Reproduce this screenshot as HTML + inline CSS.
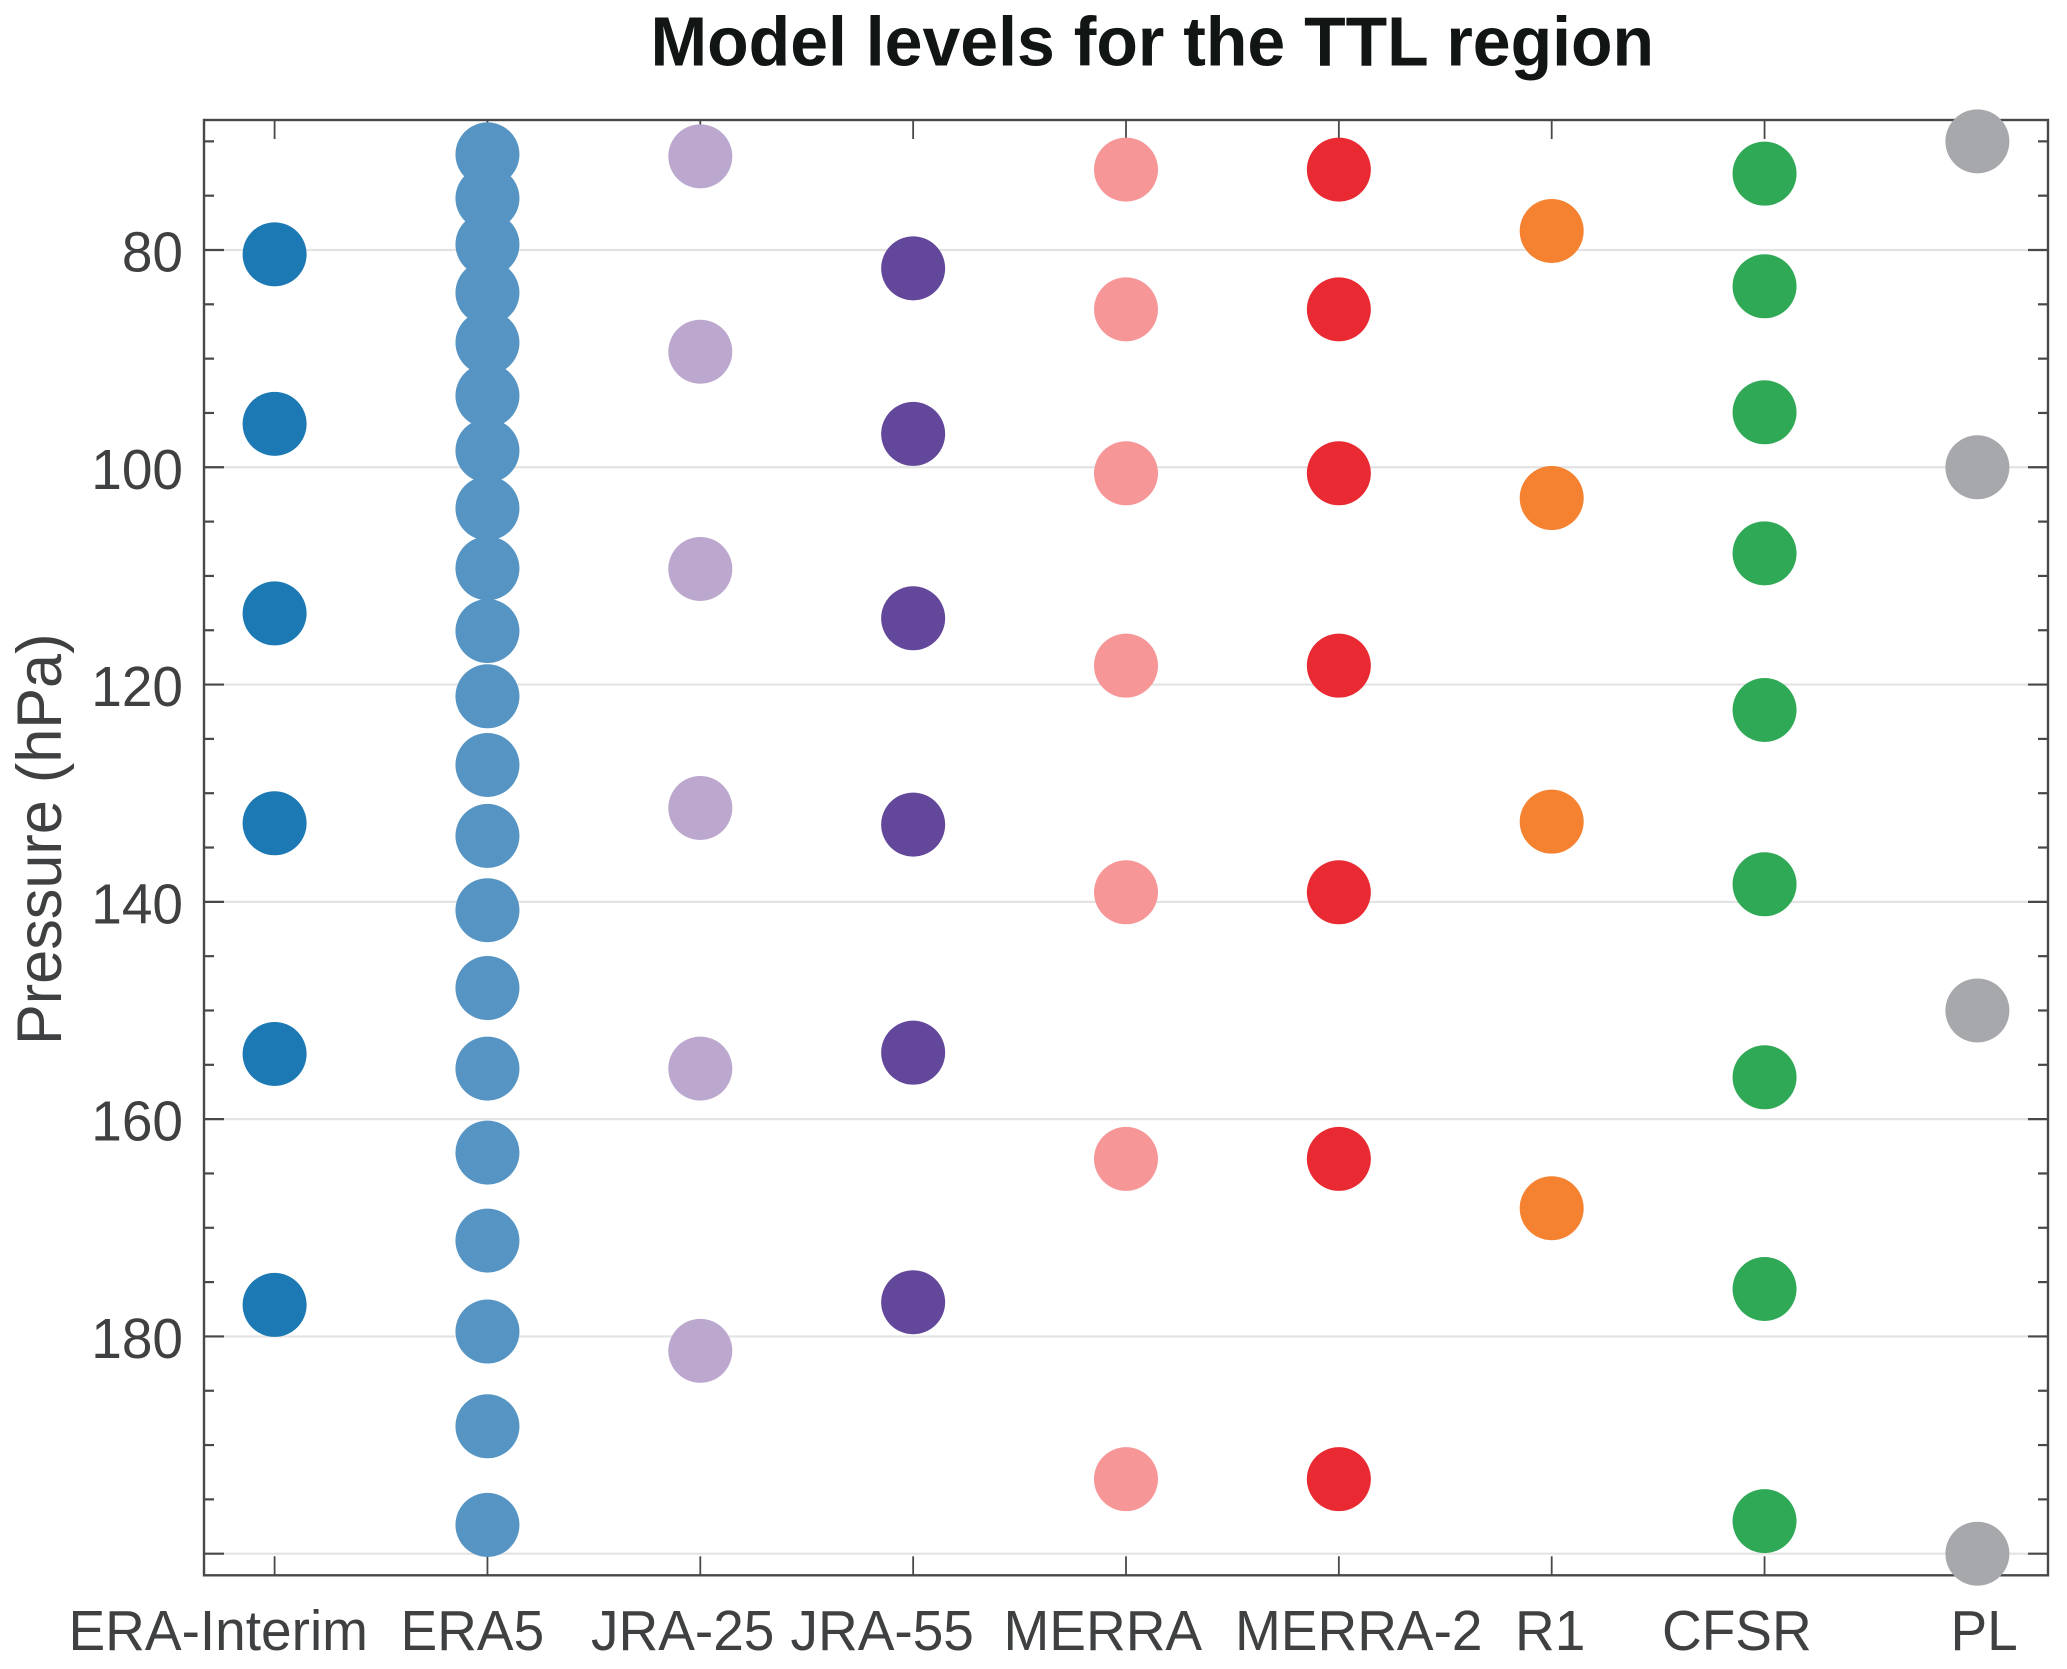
<!DOCTYPE html>
<html lang="en">
<head>
<meta charset="utf-8">
<title>Model levels for the TTL region</title>
<style>
  html, body { margin: 0; padding: 0; background: #ffffff; }
  body { width: 2067px; height: 1669px; overflow: hidden; }
  svg { display: block; font-family: "Liberation Sans", Arial, sans-serif; }
  .x-label { font-size: 55px; fill: #3f4041; }
  .y-label { font-size: 55px; fill: #3f4041; text-anchor: end; }
</style>
</head>
<body>
<svg id="chart" xmlns="http://www.w3.org/2000/svg" width="2067" height="1669" viewBox="0 0 2067 1669">
  <rect x="0" y="0" width="2067" height="1669" fill="#ffffff"/>
  <g id="grid"></g>
  <g id="ticks"></g>
  <rect x="204" y="120" width="1844" height="1455.3" fill="none" stroke="#47484a" stroke-width="2.4"/>
  <g id="y-labels"></g>
  <g transform="translate(0 1650) scale(1 1.03)">
    <text class="x-label" x="68.5" y="0">ERA-Interim</text>
    <text class="x-label" x="400.5" y="0">ERA5</text>
    <text class="x-label" x="591" y="0">JRA-25</text>
    <text class="x-label" x="790.5" y="0">JRA-55</text>
    <text class="x-label" x="1003.5" y="0">MERRA</text>
    <text class="x-label" x="1235" y="0">MERRA-2</text>
    <text class="x-label" x="1515" y="0">R1</text>
    <text class="x-label" x="1662" y="0">CFSR</text>
    <text class="x-label" x="1950.5" y="0">PL</text>
  </g>
  <text transform="translate(61 1045) rotate(-90) scale(1 1.03)" font-size="61.2" fill="#3f4041">Pressure (hPa)</text>
  <text transform="translate(650.5 65.5) scale(1 1.03)" font-size="68" font-weight="700" fill="#111615">Model levels for the TTL region</text>
  <g id="marks"></g>
</svg>
<script>
const categories = ["ERA-Interim", "ERA5", "JRA-25", "JRA-55", "MERRA", "MERRA-2", "R1", "CFSR", "PL"];
const eraInterim = [80.4, 96.0, 113.45, 132.77, 154.0, 177.1];
const era5 = [71.2, 75.24, 79.48, 83.93, 88.53, 93.4, 98.47, 103.78, 109.3, 115.07, 121.08, 127.4, 133.93, 140.77, 147.93, 155.35, 163.08, 171.18, 179.55, 188.27, 197.35];
const jra25 = [71.38, 89.36, 109.36, 131.36, 155.35, 181.33];
const jra55 = [81.69, 96.93, 113.9, 132.89, 153.88, 176.85];
const merra = [72.6, 85.46, 100.55, 118.26, 139.12, 163.66, 193.14];
const merra2 = [72.6, 85.46, 100.55, 118.26, 139.12, 163.66, 193.14];
const r1 = [78.25, 102.83, 132.62, 168.2];
const cfsr = [72.97, 83.34, 94.94, 107.92, 122.34, 138.38, 156.15, 175.63, 197.0];
const pl = [70, 100, 150, 200];
const yTickValues = [70, 75, 80, 85, 90, 95, 100, 105, 110, 115, 120, 125, 130, 135, 140, 145, 150, 155, 160, 165, 170, 175, 180, 185, 190, 195, 200];
const yLabelValues = [80, 100, 120, 140, 160, 180];
const gridValues = [80, 100, 120, 140, 160, 180, 200];

const seriesList = [eraInterim, era5, jra25, jra55, merra, merra2, r1, cfsr, pl];
const seriesColors = ["#1c79b4", "#5695c3", "#bca8cf", "#63479b", "#f69697", "#e92a32", "#f58230", "#30a957", "#a6a8ab"];

const NS = "http://www.w3.org/2000/svg";
const FRAME = { left: 204, right: 2048, top: 120, bottom: 1575.3 };

function xScale(index) {
  return 274.6 + index * 212.85;
}
function yScale(pressure) {
  return 250 + (pressure - 80) * (1303.7 / 120);
}
function slug(text) {
  return text.toLowerCase().replace(/[^a-z0-9]+/g, "-");
}
function makeLine(parent, x1, y1, x2, y2, color, width, name) {
  const el = document.createElementNS(NS, "line");
  el.setAttribute("x1", x1);
  el.setAttribute("y1", y1);
  el.setAttribute("x2", x2);
  el.setAttribute("y2", y2);
  el.setAttribute("stroke", color);
  el.setAttribute("stroke-width", width);
  
  
  parent.appendChild(el);
}

const gridGroup = document.getElementById("grid");
const tickGroup = document.getElementById("ticks");
const yLabelGroup = document.getElementById("y-labels");
const markGroup = document.getElementById("marks");

gridValues.forEach(function (v) {
  makeLine(gridGroup, FRAME.left, yScale(v), FRAME.right, yScale(v), "#e3e3e3", 2.2, "gridline-" + v);
});

yTickValues.forEach(function (v) {
  const len = gridValues.indexOf(v) >= 0 ? 20 : 10;
  const y = yScale(v);
  makeLine(tickGroup, FRAME.left, y, FRAME.left + len, y, "#47484a", 2.2, "y-tick-left-" + v);
  makeLine(tickGroup, FRAME.right - len, y, FRAME.right, y, "#47484a", 2.2, "y-tick-right-" + v);
});

categories.forEach(function (c, i) {
  const x = xScale(i);
  makeLine(tickGroup, x, FRAME.top, x, FRAME.top + 19, "#47484a", 1.8, "x-tick-top-" + slug(c));
  makeLine(tickGroup, x, FRAME.bottom - 19, x, FRAME.bottom, "#47484a", 1.8, "x-tick-bottom-" + slug(c));
});

yLabelValues.forEach(function (v) {
  const el = document.createElementNS(NS, "text");
  el.setAttribute("class", "y-label");
  el.setAttribute("transform", "translate(183 " + (yScale(v) + 21.5) + ") scale(1 1.03)");
  
  
  el.textContent = String(v);
  yLabelGroup.appendChild(el);
});

seriesList.forEach(function (values, i) {
  const group = document.createElementNS(NS, "g");
  
  
  values.forEach(function (v) {
    const dot = document.createElementNS(NS, "circle");
    dot.setAttribute("cx", xScale(i));
    dot.setAttribute("cy", yScale(v));
    dot.setAttribute("r", 32);
    dot.setAttribute("fill", seriesColors[i]);
    
    
    group.appendChild(dot);
  });
  markGroup.appendChild(group);
});
</script>
</body>
</html>
